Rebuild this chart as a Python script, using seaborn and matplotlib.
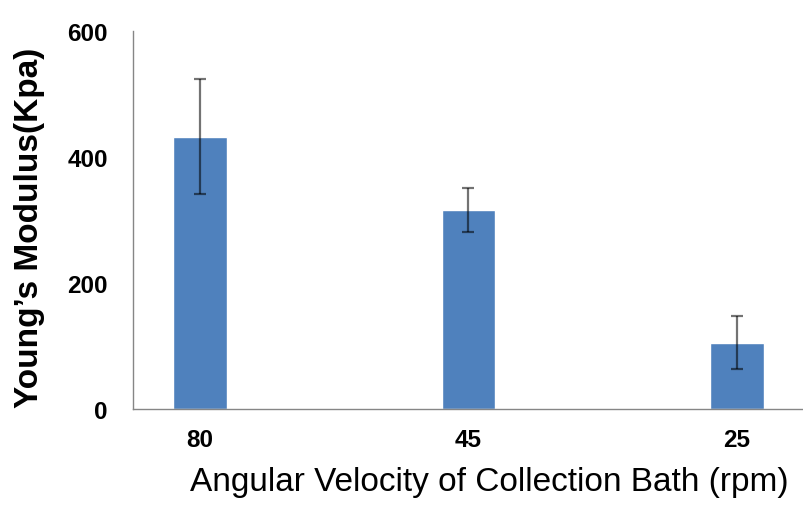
import numpy as np
import pandas as pd
import matplotlib
matplotlib.use("Agg")
import matplotlib.pyplot as plt
import seaborn as sns
from matplotlib.ticker import FixedLocator

# data
speeds = ["80", "45", "25"]
modulus = [432, 316, 105]
modulus_err = [91, 35, 42]
# Excel-style category axis: blank slots between the labelled categories
slots = ["80", "gap1", "45", "gap2", "25"]

df = pd.DataFrame({"speed": speeds, "modulus": modulus})

sns.set_style("white")
plt.rcParams["font.family"] = ["Liberation Sans", "DejaVu Sans"]
plt.rcParams["text.color"] = "black"
plt.rcParams["axes.labelcolor"] = "black"
plt.rcParams["xtick.labelcolor"] = "black"
plt.rcParams["ytick.labelcolor"] = "black"

fig = plt.figure(figsize=(8.04, 5.06), dpi=100)
ax = fig.add_axes([0.1654, 0.1897, 0.8346, 0.7471])

sns.barplot(data=df, x="speed", y="modulus", order=slots, color="#4F81BD",
            width=0.4, saturation=1, errorbar=None, ax=ax)

pos = [slots.index(s) for s in speeds]
ax.errorbar(pos, modulus, yerr=modulus_err, fmt="none", ecolor="black",
            alpha=0.55, elinewidth=1.6, capsize=4, capthick=1.6)

ax.set_ylim(0, 600)
ax.set_xlim(-0.5, len(slots) - 0.5)
ax.set_yticks([0, 200, 400, 600])

ax.set_xticks(pos)
ax.set_xticklabels(speeds)
ax.xaxis.set_minor_locator(FixedLocator(np.arange(-0.5, len(slots), 1.0)))
ax.tick_params(axis="x", which="major", length=0, pad=14, labelsize=17.5)
ax.tick_params(axis="x", which="minor", length=6, color="#868686", width=1, direction="out")
ax.tick_params(axis="y", length=6, color="#868686", width=1, direction="out", labelsize=17.5, pad=12)
for lab in ax.get_xticklabels() + ax.get_yticklabels():
    lab.set_fontweight("bold")

for side in ["top", "right"]:
    ax.spines[side].set_visible(False)
for side in ["left", "bottom"]:
    ax.spines[side].set_color("#868686")
    ax.spines[side].set_linewidth(1)

ax.set_ylabel("Young\u2019s Modulus(Kpa)", fontsize=24, fontweight="bold")
ax.yaxis.set_label_coords(-0.131, 0.481)
ax.set_xlabel("Angular Velocity of Collection Bath (rpm)", fontsize=24,
              fontweight="normal")
ax.xaxis.set_label_coords(0.531, -0.152)

fig.savefig("out.png", dpi=100)
